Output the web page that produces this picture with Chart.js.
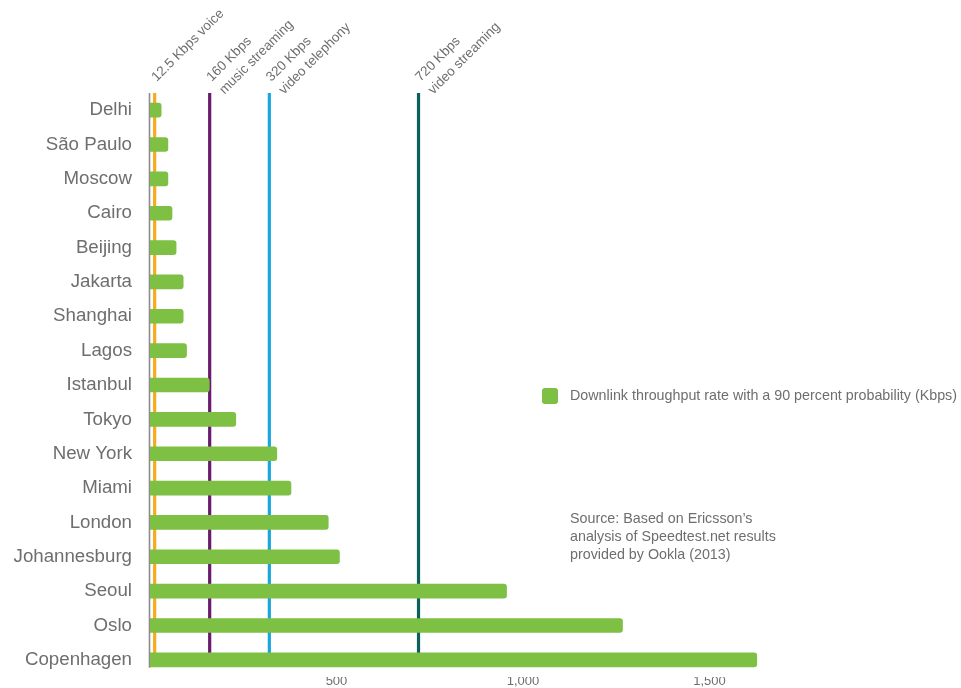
<!DOCTYPE html>
<html>
<head>
<meta charset="utf-8">
<script src="https://cdn.jsdelivr.net/npm/chart.js@4"></script>
<style>
  html, body { margin: 0; padding: 0; background: #ffffff; }
  #wrap { width: 961px; height: 688px; position: relative; }
</style>
</head>
<body>
<div id="wrap"><canvas id="c" width="961" height="688"></canvas></div>
<script>
const categories = ["Delhi", "São Paulo", "Moscow", "Cairo", "Beijing", "Jakarta", "Shanghai", "Lagos", "Istanbul", "Tokyo", "New York", "Miami", "London", "Johannesburg", "Seoul", "Oslo", "Copenhagen"];
const throughputKbps = [30, 48, 48, 59, 70, 89, 89, 98, 159, 230, 340, 378, 478, 508, 956, 1267, 1627];
const seriesLabel = "Downlink throughput rate with a 90 percent probability (Kbps)";
const xTicks = [500, 1000, 1500];
const refValues = [12.5, 160, 320, 720];
const refLabels = [["12.5 Kbps voice"], ["160 Kbps", "music streaming"], ["320 Kbps", "video telephony"], ["720 Kbps", "video streaming"]];
const refColors = ["#f7aa1c", "#6a1b6e", "#1aa7dc", "#0d5f5c"];
const sourceLines = ["Source: Based on Ericsson’s", "analysis of Speedtest.net results", "provided by Ookla (2013)"];

const FONT = "'Liberation Sans', Arial, Helvetica, sans-serif";
const GREEN = "#7dc043";
const TEXT = "#6e6e6e";

const refPlugin = {
  id: 'refs',
  beforeDatasetsDraw(chart) {
    const { ctx, chartArea, scales: { x, y } } = chart;
    const yTop = chartArea.top;
    const yBot = y.getPixelForValue(categories.length - 1);
    ctx.save();
    refValues.forEach((v, i) => {
      const px = x.getPixelForValue(v);
      ctx.strokeStyle = refColors[i];
      ctx.lineWidth = 3.2;
      ctx.beginPath();
      ctx.moveTo(px, yTop);
      ctx.lineTo(px, yBot);
      ctx.stroke();
    });
    // y axis line
    const ax = chartArea.left - 0.5;
    ctx.strokeStyle = "#8c8c8c";
    ctx.lineWidth = 1.6;
    ctx.beginPath();
    ctx.moveTo(ax, yTop);
    ctx.lineTo(ax, yBot + 8);
    ctx.stroke();
    ctx.restore();
  },
  afterDraw(chart) {
    const { ctx, scales: { x } } = chart;
    ctx.save();
    ctx.fillStyle = TEXT;
    ctx.font = "13.5px " + FONT;
    ctx.textAlign = "left";
    ctx.textBaseline = "alphabetic";
    refValues.forEach((v, i) => {
      const px = x.getPixelForValue(v);
      ctx.save();
      ctx.translate(px + 2, 82);
      ctx.rotate(-Math.PI / 4);
      refLabels[i].forEach((t, j) => ctx.fillText(t, 0, j * 18));
      ctx.restore();
    });
    // legend
    const lx = 542, ly = 388, s = 16;
    ctx.fillStyle = GREEN;
    ctx.beginPath();
    if (ctx.roundRect) ctx.roundRect(lx, ly, s, s, 3); else ctx.rect(lx, ly, s, s);
    ctx.fill();
    ctx.fillStyle = TEXT;
    ctx.textBaseline = "middle";
    ctx.font = "14.3px " + FONT;
    ctx.fillText(chart.data.datasets[0].label, 570, 396);
    // source
    sourceLines.forEach((t, i) => ctx.fillText(t, 570, 519 + i * 18));
    ctx.restore();
  }
};

new Chart(document.getElementById('c'), {
  type: 'bar',
  data: {
    labels: categories,
    datasets: [{
      label: seriesLabel,
      data: throughputKbps,
      backgroundColor: GREEN,
      borderWidth: 0,
      borderRadius: 3,
      barThickness: 14
    }]
  },
  options: {
    indexAxis: 'y',
    responsive: false,
    animation: false,
    layout: { padding: { left: 0, right: 177, top: 93, bottom: 0 } },
    plugins: { legend: { display: false }, tooltip: { enabled: false } },
    scales: {
      x: {
        min: 0,
        max: 1700,
        afterBuildTicks(scale) { scale.ticks = xTicks.map(v => ({ value: v })); },
        afterFit(scale) { scale.height = 11; scale.paddingLeft = 0; scale.paddingRight = 0; },
        grid: { display: false, drawTicks: false },
        border: { display: false },
        ticks: {
          padding: -3,
          color: TEXT,
          font: { family: FONT, size: 13 },
          maxRotation: 0,
          callback: (v) => v.toLocaleString('en-US')
        }
      },
      y: {
        afterFit(scale) { scale.width = 150; scale.paddingTop = 0; scale.paddingBottom = 0; },
        grid: { display: false, drawTicks: false },
        border: { display: false },
        ticks: {
          padding: 18,
          color: TEXT,
          font: { family: FONT, size: 18.7 }
        }
      }
    }
  },
  plugins: [refPlugin]
});
</script>
</body>
</html>
